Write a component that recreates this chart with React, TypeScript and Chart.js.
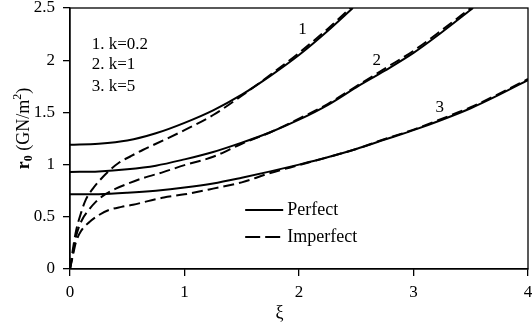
import React, { useEffect, useRef } from "react";
import { Chart, registerables } from "chart.js";

Chart.register(...registerables);

// Perfect (solid) curves
const perfect1X = [0, 0.25, 0.5, 0.75, 1.0, 1.25, 1.5, 1.75, 2.0, 2.25, 2.47];
const perfect1Y = [1.19, 1.2, 1.23, 1.3, 1.4, 1.52, 1.67, 1.85, 2.05, 2.28, 2.5];
const perfect2X = [0, 0.25, 0.5, 0.75, 1.0, 1.25, 1.5, 1.75, 2.0, 2.25, 2.5, 2.75, 3.0, 3.25, 3.52];
const perfect2Y = [0.93, 0.935, 0.955, 0.99, 1.05, 1.12, 1.21, 1.31, 1.43, 1.57, 1.74, 1.9, 2.07, 2.27, 2.5];
const perfect3X = [0, 0.25, 0.5, 0.75, 1.0, 1.25, 1.5, 1.75, 2.0, 2.25, 2.5, 2.75, 3.0, 3.25, 3.5, 3.75, 4.0];
const perfect3Y = [0.715, 0.717, 0.73, 0.75, 0.78, 0.82, 0.875, 0.935, 1.0, 1.07, 1.15, 1.24, 1.33, 1.43, 1.54, 1.67, 1.81];

// Imperfect (dashed) curves
const imperfect1X = [0, 0.02, 0.05, 0.1, 0.14, 0.2, 0.256, 0.33, 0.43, 0.53, 0.635, 0.82, 1.0, 1.25, 1.5, 1.75, 2.0, 2.25, 2.45];
const imperfect1Y = [0, 0.15, 0.35, 0.55, 0.67, 0.77, 0.845, 0.93, 1.02, 1.08, 1.14, 1.235, 1.33, 1.475, 1.66, 1.86, 2.07, 2.3, 2.5];
const imperfect2X = [0, 0.02, 0.05, 0.1, 0.16, 0.227, 0.3, 0.4, 0.5, 0.635, 0.82, 1.0, 1.25, 1.5, 1.75, 2.0, 2.25, 2.5, 2.75, 3.0, 3.25, 3.5];
const imperfect2Y = [0, 0.12, 0.3, 0.46, 0.56, 0.645, 0.71, 0.77, 0.815, 0.87, 0.93, 0.995, 1.075, 1.2, 1.31, 1.44, 1.58, 1.75, 1.92, 2.09, 2.29, 2.5];
const imperfect3X = [0, 0.02, 0.05, 0.1, 0.17, 0.25, 0.34, 0.45, 0.55, 0.68, 0.82, 1.0, 1.25, 1.5, 1.75, 2.0, 2.25, 2.5, 2.75, 3.0, 3.25, 3.5, 3.75, 4.0];
const imperfect3Y = [0, 0.1, 0.25, 0.37, 0.45, 0.515, 0.565, 0.595, 0.615, 0.65, 0.685, 0.715, 0.77, 0.83, 0.92, 0.995, 1.07, 1.15, 1.245, 1.335, 1.44, 1.55, 1.68, 1.82];

// Annotations (data coordinates)
const curveLabels = ["1", "2", "3"];
const curveLabelX = [2.03, 2.68, 3.23];
const curveLabelY = [2.29, 2.0, 1.55];
const kLabels = ["1. k=0.2", "2. k=1", "3. k=5"];
const kLabelX = 0.19;
const kLabelY = [2.15, 1.96, 1.75];
const legendLabels = ["Perfect", "Imperfect"];
const legendX = 1.53;
const legendY = [0.565, 0.307];
const xTitle = "ξ";
const xTitleAt = 1.83;

const FONT = "'Liberation Serif', 'Times New Roman', serif";
const toPts = (xs: number[], ys: number[]) => xs.map((x, i) => ({ x, y: ys[i] }));

const annotPlugin = {
  id: "annot",
  afterDraw(chart: any) {
    const { ctx, chartArea, scales } = chart;
    const xs = scales.x;
    const ys = scales.y;
    ctx.save();
    // frame
    ctx.strokeStyle = "#000";
    ctx.lineWidth = 1.3;
    ctx.strokeRect(chartArea.left, chartArea.top, chartArea.right - chartArea.left, chartArea.bottom - chartArea.top);

    ctx.fillStyle = "#000";
    ctx.textBaseline = "middle";
    // curve numbers
    ctx.font = `17px ${FONT}`;
    ctx.textAlign = "center";
    curveLabels.forEach((t, i) => {
      ctx.fillText(t, xs.getPixelForValue(curveLabelX[i]), ys.getPixelForValue(curveLabelY[i]));
    });
    // k labels
    ctx.textAlign = "left";
    kLabels.forEach((t, i) => {
      ctx.fillText(t, xs.getPixelForValue(kLabelX), ys.getPixelForValue(kLabelY[i]));
    });
    // legend
    ctx.font = `18px ${FONT}`;
    const lx = xs.getPixelForValue(legendX);
    legendLabels.forEach((t, i) => {
      const ly = ys.getPixelForValue(legendY[i]);
      ctx.beginPath();
      ctx.lineWidth = 2;
      ctx.setLineDash(i === 0 ? [] : [15, 5]);
      ctx.moveTo(lx, ly);
      ctx.lineTo(lx + 38, ly);
      ctx.stroke();
      ctx.setLineDash([]);
      ctx.fillText(t, lx + 42, ly);
    });
    // x title
    ctx.textAlign = "center";
    ctx.font = `18px ${FONT}`;
    ctx.fillText(xTitle, xs.getPixelForValue(xTitleAt), chartArea.bottom + 44);

    // y title with sub/superscripts
    const cx = 24;
    const cy = (chartArea.top + chartArea.bottom) / 2 - 10;
    ctx.translate(cx, cy);
    ctx.rotate(-Math.PI / 2);
    const parts = [
      { t: "r", f: `bold 18px ${FONT}`, dy: 0 },
      { t: "0", f: `bold 12px ${FONT}`, dy: 5 },
      { t: " (GN/m", f: `18px ${FONT}`, dy: 0 },
      { t: "2", f: `12px ${FONT}`, dy: -6 },
      { t: ")", f: `18px ${FONT}`, dy: 0 },
    ];
    let total = 0;
    parts.forEach((p) => {
      ctx.font = p.f;
      total += ctx.measureText(p.t).width;
    });
    let px = -total / 2;
    ctx.textAlign = "left";
    parts.forEach((p) => {
      ctx.font = p.f;
      ctx.fillText(p.t, px, p.dy);
      px += ctx.measureText(p.t).width;
    });
    ctx.restore();
  },
};

export default function App() {
  const ref = useRef<HTMLCanvasElement | null>(null);
  useEffect(() => {
    document.body.style.margin = "0";
    const solid = { borderColor: "#000", borderWidth: 2, pointRadius: 0, fill: false, cubicInterpolationMode: "monotone" as const };
    const dashed = { ...solid, borderDash: [11, 5] };
    const chart = new Chart(ref.current!, {
      type: "line",
      data: {
        datasets: [
          { label: "Perfect 1", data: toPts(perfect1X, perfect1Y), ...solid },
          { label: "Perfect 2", data: toPts(perfect2X, perfect2Y), ...solid },
          { label: "Perfect 3", data: toPts(perfect3X, perfect3Y), ...solid },
          { label: "Imperfect 1", data: toPts(imperfect1X, imperfect1Y), ...dashed },
          { label: "Imperfect 2", data: toPts(imperfect2X, imperfect2Y), ...dashed },
          { label: "Imperfect 3", data: toPts(imperfect3X, imperfect3Y), ...dashed },
        ],
      },
      options: {
        animation: false,
        responsive: false,
        layout: { padding: { top: 8, right: 4, left: 0, bottom: 0 } },
        plugins: { legend: { display: false }, tooltip: { enabled: false } },
        scales: {
          x: {
            type: "linear",
            min: 0,
            max: 4,
            afterFit: (s: any) => { s.height = 58; s.paddingLeft = 0; s.paddingRight = 0; },
            ticks: { stepSize: 1, color: "#000", font: { family: FONT, size: 17 }, padding: 6, maxRotation: 0, callback: (v: any) => String(v) },
            grid: { drawOnChartArea: false, drawTicks: true, tickLength: 7, color: "#000", lineWidth: 1.3 },
            border: { display: true, color: "#000", width: 1.3 },
          },
          y: {
            type: "linear",
            min: 0,
            max: 2.5,
            afterFit: (s: any) => { s.width = 70; s.paddingTop = 0; s.paddingBottom = 0; },
            ticks: { stepSize: 0.5, color: "#000", font: { family: FONT, size: 17 }, padding: 8, callback: (v: any) => String(v) },
            grid: { drawOnChartArea: false, drawTicks: true, tickLength: 7, color: "#000", lineWidth: 1.3 },
            border: { display: true, color: "#000", width: 1.3 },
          },
        },
      },
      plugins: [annotPlugin],
    });
    return () => chart.destroy();
  }, []);
  return <canvas ref={ref} width={532} height={327} style={{ display: "block" }} />;
}
